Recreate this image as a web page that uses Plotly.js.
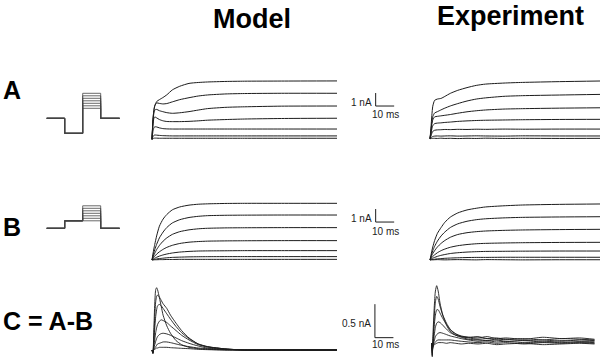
<!DOCTYPE html>
<html>
<head>
<meta charset="utf-8">
<script src="https://cdn.plot.ly/plotly-3.0.1.min.js"></script>
<style>html,body{margin:0;padding:0;background:#fff}#plot{width:600px;height:359px}</style>
</head>
<body>
<div id="plot"></div>
<script>
// ---------------- DATA ----------------
// time bases (ms)
const tModel = [0, 0.5, 1, 1.5, 2.5, 4, 6, 8, 11, 15, 20, 25, 30, 40, 50, 70, 100];
const tExp   = [0, 0.5, 1, 1.5, 2.5, 4, 6, 8, 11, 15, 20, 25, 30, 40, 50, 70, 93];
const tModelC = [0, 0.5, 1, 1.5, 2, 2.5, 3, 4, 5, 6, 8, 10, 13, 16, 20, 25, 30, 40, 50, 70, 100];
const tExpC   = [0, 0.3, 0.8, 1.5, 2, 2.7, 3.5, 4.5, 6, 8, 10, 13, 16, 20, 25, 30, 35, 40, 50, 60, 70, 80, 88];

// A: currents (nA) for 7 test steps
const modelA = [
  [0, 1.5, 2.2, 2.55, 2.9, 3.05, 3.22, 3.42, 3.8, 4.08, 4.3, 4.37, 4.41, 4.45, 4.47, 4.48, 4.49],
  [0, 1.4, 2.2, 2.6, 2.8, 2.76, 2.72, 2.75, 2.88, 3.05, 3.2, 3.33, 3.41, 3.49, 3.52, 3.54, 3.54],
  [0, 1.3, 2.0, 2.25, 2.3, 2.2, 2.12, 2.05, 2.0, 2.04, 2.13, 2.25, 2.36, 2.46, 2.5, 2.55, 2.56],
  [0, 1.1, 1.6, 1.72, 1.65, 1.52, 1.42, 1.37, 1.36, 1.36, 1.38, 1.42, 1.47, 1.52, 1.56, 1.6, 1.62],
  [0, 0.6, 0.88, 0.96, 0.95, 0.88, 0.82, 0.8, 0.79, 0.79, 0.79, 0.79, 0.79, 0.79, 0.79, 0.79, 0.79],
  [0, 0.2, 0.3, 0.33, 0.32, 0.3, 0.28, 0.27, 0.26, 0.26, 0.26, 0.26, 0.26, 0.26, 0.26, 0.26, 0.26],
  [0, 0.05, 0.08, 0.09, 0.09, 0.08, 0.08, 0.08, 0.08, 0.08, 0.08, 0.08, 0.08, 0.08, 0.08, 0.08, 0.08]
];
const expA = [
  [0, 0.8, 1.8, 2.5, 2.95, 3.05, 3.1, 3.25, 3.49, 3.72, 3.93, 4.1, 4.2, 4.28, 4.33, 4.39, 4.44],
  [0, 0.6, 1.3, 1.7, 1.98, 2.08, 2.22, 2.35, 2.52, 2.7, 2.9, 3.05, 3.14, 3.26, 3.31, 3.36, 3.41],
  [0, 0.5, 1.1, 1.45, 1.68, 1.72, 1.76, 1.8, 1.86, 1.96, 2.07, 2.15, 2.21, 2.28, 2.31, 2.35, 2.38],
  [0, 0.35, 0.75, 1.0, 1.16, 1.2, 1.22, 1.25, 1.28, 1.33, 1.37, 1.4, 1.42, 1.44, 1.46, 1.48, 1.49],
  [0, 0.2, 0.42, 0.56, 0.65, 0.68, 0.69, 0.71, 0.7, 0.72, 0.71, 0.73, 0.72, 0.74, 0.73, 0.74, 0.74],
  [0, 0.06, 0.13, 0.17, 0.2, 0.21, 0.2, 0.21, 0.22, 0.2, 0.21, 0.22, 0.21, 0.2, 0.22, 0.21, 0.21],
  [0, 0.01, 0.02, 0.03, 0.03, 0.02, 0.04, 0.02, 0.03, 0.01, 0.03, 0.02, 0.04, 0.02, 0.03, 0.02, 0.03]
];
// B
const modelB = [
  [0, 0.45, 0.85, 1.2, 1.85, 2.6, 3.15, 3.5, 3.86, 4.08, 4.22, 4.29, 4.32, 4.35, 4.36, 4.36, 4.36],
  [0, 0.3, 0.55, 0.8, 1.2, 1.7, 2.15, 2.5, 2.85, 3.1, 3.27, 3.36, 3.41, 3.44, 3.45, 3.46, 3.46],
  [0, 0.2, 0.38, 0.52, 0.8, 1.12, 1.45, 1.7, 1.97, 2.18, 2.32, 2.4, 2.44, 2.47, 2.48, 2.49, 2.49],
  [0, 0.12, 0.22, 0.3, 0.45, 0.63, 0.82, 0.97, 1.13, 1.27, 1.37, 1.42, 1.45, 1.47, 1.48, 1.49, 1.49],
  [0, 0.06, 0.1, 0.14, 0.21, 0.3, 0.39, 0.46, 0.54, 0.61, 0.66, 0.69, 0.7, 0.71, 0.72, 0.72, 0.72],
  [0, 0.02, 0.04, 0.05, 0.08, 0.11, 0.14, 0.17, 0.2, 0.22, 0.24, 0.25, 0.255, 0.26, 0.26, 0.26, 0.26],
  [0, 0.01, 0.01, 0.02, 0.02, 0.03, 0.03, 0.04, 0.04, 0.05, 0.05, 0.05, 0.05, 0.05, 0.05, 0.05, 0.05]
];
const expB = [
  [0, 0.35, 0.7, 1.0, 1.5, 2.05, 2.5, 2.9, 3.3, 3.62, 3.85, 3.98, 4.08, 4.17, 4.23, 4.28, 4.31],
  [0, 0.25, 0.5, 0.72, 1.05, 1.45, 1.85, 2.15, 2.5, 2.78, 2.98, 3.1, 3.17, 3.24, 3.28, 3.31, 3.33],
  [0, 0.18, 0.35, 0.5, 0.72, 1.0, 1.28, 1.5, 1.75, 1.96, 2.1, 2.18, 2.23, 2.28, 2.31, 2.34, 2.36],
  [0, 0.1, 0.2, 0.28, 0.4, 0.56, 0.72, 0.84, 0.98, 1.1, 1.19, 1.25, 1.28, 1.31, 1.33, 1.35, 1.36],
  [0, 0.05, 0.1, 0.14, 0.2, 0.28, 0.36, 0.42, 0.5, 0.56, 0.61, 0.64, 0.66, 0.67, 0.68, 0.69, 0.69],
  [0, 0.02, 0.03, 0.04, 0.06, 0.09, 0.11, 0.13, 0.15, 0.17, 0.19, 0.2, 0.2, 0.21, 0.21, 0.21, 0.21],
  [0, 0.01, 0.02, 0.01, 0.02, 0.03, 0.02, 0.01, 0.02, 0.03, 0.02, 0.01, 0.03, 0.02, 0.01, 0.02, 0.02]
];
// C = A - B
const modelC = [
  [0, -0.05, 0.3, 0.7, 0.9, 0.93, 0.9, 0.78, 0.65, 0.52, 0.36, 0.25, 0.14, 0.08, 0.04, 0.02, 0.01, 0, 0, 0, 0],
  [0, -0.05, 0.2, 0.5, 0.72, 0.8, 0.82, 0.79, 0.74, 0.69, 0.62, 0.52, 0.4, 0.29, 0.18, 0.09, 0.05, 0.015, 0, 0, 0],
  [0, -0.05, 0.12, 0.33, 0.5, 0.6, 0.66, 0.68, 0.66, 0.62, 0.54, 0.46, 0.35, 0.26, 0.17, 0.09, 0.05, 0.015, 0, 0, 0],
  [0, -0.04, 0.06, 0.16, 0.26, 0.33, 0.38, 0.43, 0.45, 0.44, 0.41, 0.36, 0.29, 0.22, 0.15, 0.08, 0.045, 0.015, 0, 0, 0],
  [0, -0.03, 0.03, 0.08, 0.13, 0.17, 0.2, 0.23, 0.245, 0.25, 0.24, 0.22, 0.18, 0.14, 0.1, 0.06, 0.03, 0.01, 0, 0, 0],
  [0, -0.02, 0.01, 0.03, 0.05, 0.07, 0.09, 0.1, 0.11, 0.12, 0.12, 0.11, 0.09, 0.07, 0.05, 0.03, 0.02, 0.005, 0, 0, 0],
  [0, -0.01, 0, 0.01, 0.02, 0.03, 0.03, 0.04, 0.04, 0.04, 0.04, 0.035, 0.03, 0.025, 0.02, 0.01, 0.005, 0, 0, 0, 0]
];
const expC = [
  [0, -0.2, 0.2, 0.6, 0.78, 0.86, 0.78, 0.6, 0.42, 0.27, 0.18, 0.12, 0.1, 0.09, 0.08, 0.1, 0.07, 0.08, 0.06, 0.09, 0.07, 0.08, 0.06],
  [0, -0.18, 0.1, 0.45, 0.62, 0.7, 0.66, 0.55, 0.42, 0.3, 0.21, 0.14, 0.11, 0.09, 0.1, 0.07, 0.08, 0.06, 0.07, 0.05, 0.07, 0.06, 0.05],
  [0, -0.15, 0.05, 0.3, 0.42, 0.5, 0.5, 0.45, 0.37, 0.28, 0.2, 0.14, 0.1, 0.08, 0.06, 0.07, 0.05, 0.06, 0.04, 0.05, 0.03, 0.05, 0.04],
  [0, -0.12, 0.0, 0.15, 0.24, 0.3, 0.32, 0.31, 0.27, 0.21, 0.16, 0.12, 0.09, 0.06, 0.05, 0.04, 0.05, 0.03, 0.04, 0.02, 0.04, 0.03, 0.03],
  [0, -0.1, -0.02, 0.05, 0.1, 0.13, 0.15, 0.16, 0.15, 0.13, 0.11, 0.09, 0.07, 0.05, 0.03, 0.04, 0.02, 0.03, 0.01, 0.02, 0.01, 0.02, 0.01],
  [0, -0.08, -0.03, 0.0, 0.02, 0.04, 0.05, 0.05, 0.05, 0.05, 0.05, 0.04, 0.03, 0.02, 0.01, 0.02, 0, 0.01, -0.01, 0.01, 0, 0.01, 0],
  [0, -0.06, -0.04, -0.02, -0.01, 0, 0.01, 0.01, 0.01, 0, 0.01, 0, -0.01, 0, -0.01, 0, -0.02, -0.01, 0, -0.02, -0.01, 0, -0.01]
];

// voltage protocols (mV) and segment times
const stimTimes = [0, 20, 20, 40, 40, 60, 60, 81];
const holdV = -80;
const prepulseA = -140;
const prepulseB = -50;
const testStepsA = [-40, -30, -20, -10, 0, 10, 20];
const testStepsB = [-50, -40, -30, -20, -10, 0, 10];

// labels
const rowLabels = ["A", "B", "C = A-B"];
const colTitles = ["Model", "Experiment"];
const scaleLabels = {A: ["1 nA", "10 ms"], B: ["1 nA", "10 ms"], C: ["0.5 nA", "10 ms"]};

// ---------------- LAYOUT HELPERS ----------------
const W = 600, H = 359;
const layout = {
  width: W, height: H, margin: {l: 0, r: 0, t: 0, b: 0},
  paper_bgcolor: '#fff', plot_bgcolor: 'rgba(0,0,0,0)',
  showlegend: false, hovermode: false,
  shapes: [], annotations: []
};
const traces = [];
let axCount = 0;
function makeAxes(box, map) {
  axCount++;
  const sfx = axCount === 1 ? '' : String(axCount);
  const hidden = {visible: false, showgrid: false, zeroline: false, fixedrange: true};
  layout['xaxis' + sfx] = Object.assign({}, hidden, {
    domain: [box.x0 / W, box.x1 / W],
    range: [(box.x0 - map.ox) / map.sx, (box.x1 - map.ox) / map.sx],
    anchor: 'y' + sfx
  });
  layout['yaxis' + sfx] = Object.assign({}, hidden, {
    domain: [1 - box.y1 / H, 1 - box.y0 / H],
    range: [(map.oy - box.y1) / map.sy, (map.oy - box.y0) / map.sy],
    anchor: 'x' + sfx
  });
  return {x: 'x' + sfx, y: 'y' + sfx};
}
const ink = '#1c1c1c';
function addSeries(ax, t, list, width) {
  list.forEach(v => traces.push({
    type: 'scatter', mode: 'lines', x: t, y: v, xaxis: ax.x, yaxis: ax.y,
    line: {color: ink, width: width, shape: 'spline', smoothing: 0.6}, hoverinfo: 'skip'
  }));
}
function addStim(ax, pre, steps) {
  steps.forEach(s => traces.push({
    type: 'scatter', mode: 'lines', x: stimTimes,
    y: [holdV, holdV, pre, pre, s, s, holdV, holdV],
    xaxis: ax.x, yaxis: ax.y, line: {color: '#444', width: 0.8}, hoverinfo: 'skip'
  }));
}
function scaleBar(ax, t0, v0, dv, labels, vLabY, tLabY) {
  const ln = {color: ink, width: 1};
  layout.shapes.push({type: 'line', xref: ax.x, yref: ax.y, x0: t0, x1: t0, y0: v0, y1: v0 + dv, line: ln});
  layout.shapes.push({type: 'line', xref: ax.x, yref: ax.y, x0: t0, x1: t0 + 10, y0: v0, y1: v0, line: ln});
  const f = {family: 'Liberation Sans, Arial, sans-serif', size: 10, color: ink};
  layout.annotations.push({xref: ax.x, yref: ax.y, x: t0 - 0.8, y: vLabY, text: labels[0], showarrow: false, xanchor: 'right', yanchor: 'middle', font: f});
  layout.annotations.push({xref: ax.x, yref: ax.y, x: t0 + 5.5, y: tLabY, text: labels[1], showarrow: false, xanchor: 'center', yanchor: 'middle', font: f});
}
function paperText(text, xpx, ypx, size, anchor) {
  layout.annotations.push({xref: 'paper', yref: 'paper', x: xpx / W, y: 1 - ypx / H, text: text,
    showarrow: false, xanchor: anchor, yanchor: 'middle',
    font: {family: 'Liberation Sans, Arial, sans-serif', size: size, color: '#000', weight: 'bold'}});
}

// ---------------- BUILD ----------------
// stimulus axes: 0 mV sits 20 px above the holding line
const axStimA = makeAxes({x0: 40, x1: 130, y0: 85, y1: 140}, {ox: 46.7, sx: 0.9, oy: 98.3, sy: 0.25});
const axStimB = makeAxes({x0: 40, x1: 130, y0: 195, y1: 240}, {ox: 46.7, sx: 0.9, oy: 208.3, sy: 0.25});
const axModelA = makeAxes({x0: 140, x1: 420, y0: 65, y1: 150}, {ox: 152, sx: 1.85, oy: 139.3, sy: 13});
const axExpA = makeAxes({x0: 420, x1: 600, y0: 65, y1: 150}, {ox: 430, sx: 1.85, oy: 138.7, sy: 13});
const axModelB = makeAxes({x0: 140, x1: 420, y0: 185, y1: 270}, {ox: 152, sx: 1.85, oy: 260, sy: 13});
const axExpB = makeAxes({x0: 420, x1: 600, y0: 185, y1: 270}, {ox: 430, sx: 1.85, oy: 260, sy: 13});
const axModelC = makeAxes({x0: 140, x1: 420, y0: 278, y1: 359}, {ox: 152, sx: 1.85, oy: 350, sy: 67});
const axExpC = makeAxes({x0: 420, x1: 600, y0: 278, y1: 359}, {ox: 431.7, sx: 1.85, oy: 343.3, sy: 67});

addStim(axStimA, prepulseA, testStepsA);
addStim(axStimB, prepulseB, testStepsB);
addSeries(axModelA, tModel, modelA, 1);
addSeries(axExpA, tExp, expA, 1);
addSeries(axModelB, tModel, modelB, 1);
addSeries(axExpB, tExp, expB, 1);
addSeries(axModelC, tModelC, modelC, 0.9);
addSeries(axExpC, tExpC, expC, 0.9);

scaleBar(axModelA, 120.9, 2.56, 1, scaleLabels.A, 2.8, 1.87);
scaleBar(axModelB, 120.9, 2.92, 1, scaleLabels.B, 3.18, 2.2);
scaleBar(axModelC, 120.5, 0.184, 0.5, scaleLabels.C, 0.4, 0.075);

paperText(colTitles[0], 251.5, 18.5, 27, 'center');
paperText(colTitles[1], 510, 16.5, 27, 'center');
paperText(rowLabels[0], 1, 90.5, 25, 'left');
paperText(rowLabels[1], 1, 227, 25, 'left');
paperText(rowLabels[2], 1, 321, 25, 'left');

Plotly.newPlot('plot', traces, layout, {staticPlot: true, displayModeBar: false});
</script>
</body>
</html>
